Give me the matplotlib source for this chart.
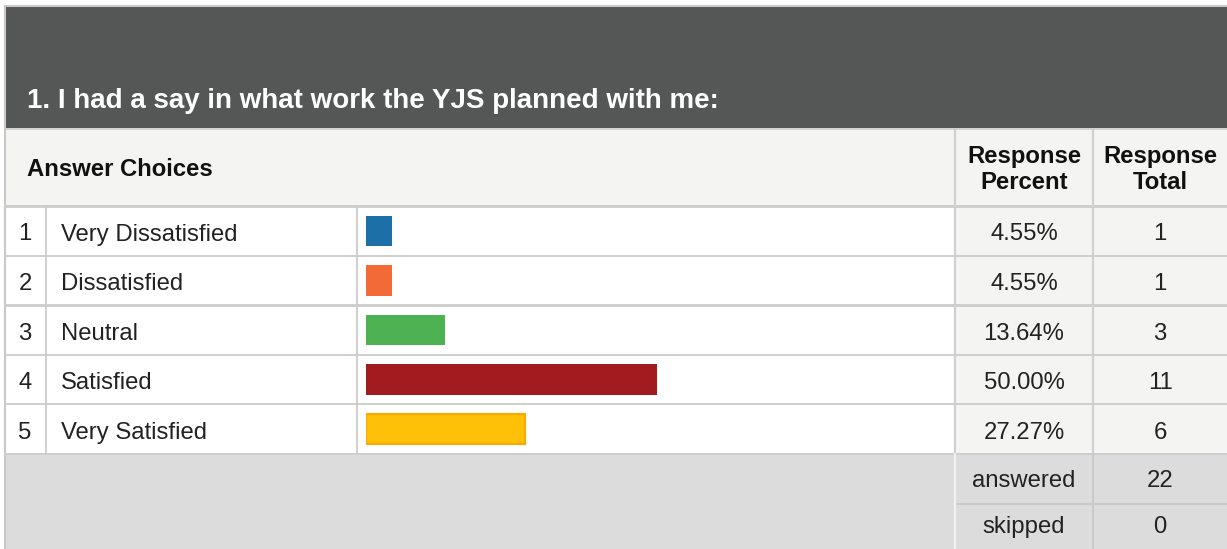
import matplotlib
matplotlib.use("Agg")
import matplotlib.pyplot as plt
from matplotlib.patches import Rectangle

# ---------------- data ----------------
title = "1. I had a say in what work the YJS planned with me:"
header_choices = "Answer Choices"
header_percent = ["Response", "Percent"]
header_total = ["Response", "Total"]
choices = ["Very Dissatisfied", "Dissatisfied", "Neutral", "Satisfied", "Very Satisfied"]
percents = [4.55, 4.55, 13.64, 50.00, 27.27]
totals = [1, 1, 3, 11, 6]
summary_labels = ["answered", "skipped"]
summary_values = [22, 0]
bar_colors = ["#1d70a7", "#f26a35", "#4eb152", "#a21c1f", "#ffc107"]
bar_edges = ["none", "none", "none", "none", "#ffa800"]

# ---------------- layout ----------------
plt.rcParams['font.family'] = ['Liberation Sans', 'DejaVu Sans']
W, H = 1227, 549
fig = plt.figure(figsize=(W / 100, H / 100), dpi=100)
ax = fig.add_axes([0, 0, 1, 1])
ax.set_xlim(0, W)
ax.set_ylim(H, 0)
ax.axis('off')

L = 5            # left border
TOP = 6
HDR_BOT = 128
COLHDR_TOP = 130
ROW_TOP = 206
ROW_H = 49.6
n = len(choices)
ROWS_BOT = ROW_TOP + n * ROW_H
SUM_H = [50, 45]
X_NUM = 46
X_LABEL_END = 357
X_PCT = 955
X_TOT = 1093
LINE = "#cccccc"
LIGHT = "#f4f4f3"
SUMBG = "#dcdcdc"

# backgrounds
ax.add_patch(Rectangle((L, TOP), W - L, HDR_BOT - TOP, color="#555756", lw=0))
ax.add_patch(Rectangle((L, HDR_BOT), W - L, COLHDR_TOP - HDR_BOT, color="#d4d4d4", lw=0))
ax.add_patch(Rectangle((L, COLHDR_TOP), W - L, ROW_TOP - COLHDR_TOP, color=LIGHT, lw=0))
ax.add_patch(Rectangle((L, ROW_TOP), X_PCT - L, ROWS_BOT - ROW_TOP, color="white", lw=0))
ax.add_patch(Rectangle((X_PCT, ROW_TOP), W - X_PCT, ROWS_BOT - ROW_TOP, color=LIGHT, lw=0))
ax.add_patch(Rectangle((L, ROWS_BOT), W - L, H - ROWS_BOT, color=SUMBG, lw=0))

# border
ax.plot([L, L], [TOP, H], color="#c8c8c8", lw=1.5)
ax.plot([L, W], [TOP, TOP], color="#c8c8c8", lw=1.5)

# horizontal row lines
for i in range(n + 1):
    y = ROW_TOP + i * ROW_H
    lw = 2.0 if i in (0, 2) else 1.3
    ax.plot([L, W], [y, y], color=LINE, lw=lw)
y_sum_mid = ROWS_BOT + SUM_H[0]
ax.plot([X_PCT, W], [y_sum_mid, y_sum_mid], color="#c8c8c8", lw=1.3)

# vertical lines
ax.plot([X_NUM, X_NUM], [ROW_TOP, ROWS_BOT], color=LINE, lw=1.3)
ax.plot([X_LABEL_END, X_LABEL_END], [ROW_TOP, ROWS_BOT], color=LINE, lw=1.3)
ax.plot([X_PCT, X_PCT], [COLHDR_TOP, ROWS_BOT], color="#d0d0d0", lw=1.6)
ax.plot([X_TOT, X_TOT], [COLHDR_TOP, ROWS_BOT], color="#d0d0d0", lw=1.6)
ax.plot([X_PCT, X_PCT], [ROWS_BOT, H], color="#f2f2f2", lw=1.6)
ax.plot([X_TOT, X_TOT], [ROWS_BOT, H], color="#c8c8c8", lw=1.3)

# texts
FS = 17.2
TXT = "#222222"
ax.text(27, 108.5, title, color="white", fontsize=20, fontweight="bold", va="baseline", ha="left")
ax.text(27, 175.5, header_choices, fontsize=FS, fontweight="bold", va="baseline", ha="left", color="#111111")
xc_pct = (X_PCT + X_TOT) / 2
xc_tot = (X_TOT + W) / 2
for j, (a, b) in enumerate(zip(header_percent, header_total)):
    yb = 162.7 + j * 26
    ax.text(xc_pct, yb, a, fontsize=FS, fontweight="bold", ha="center", va="baseline", color="#111111")
    ax.text(xc_tot, yb, b, fontsize=FS, fontweight="bold", ha="center", va="baseline", color="#111111")

for i, (c, p, t) in enumerate(zip(choices, percents, totals)):
    yb = ROW_TOP + i * ROW_H + 34.5
    ax.text(25, yb, str(i + 1), fontsize=FS, ha="center", va="baseline", color=TXT)
    ax.text(61, yb, c, fontsize=FS, ha="left", va="baseline", color=TXT)
    ax.text(xc_pct, yb, f"{p:.2f}%", fontsize=FS, ha="center", va="baseline", color=TXT)
    ax.text(xc_tot, yb, str(t), fontsize=FS, ha="center", va="baseline", color=TXT)

y0 = ROWS_BOT
for lab, val, h, off in zip(summary_labels, summary_values, SUM_H, [33, 29]):
    ax.text(xc_pct, y0 + off, lab, fontsize=FS, ha="center", va="baseline", color=TXT)
    ax.text(xc_tot, y0 + off, str(val), fontsize=FS, ha="center", va="baseline", color=TXT)
    y0 += h

# bars
BX0, BW = 366, 582
bax = fig.add_axes([BX0 / W, (H - ROWS_BOT) / H, BW / W, (ROWS_BOT - ROW_TOP) / H])
bax.set_xlim(0, 100)
bax.set_ylim(n - 0.5, -0.5)
bax.axis('off')
bax.patch.set_alpha(0)
bars = bax.barh(range(n), percents, height=0.61, color=bar_colors, linewidth=0)
for b, ec in zip(bars, bar_edges):
    if ec != "none":
        b.set_edgecolor(ec)
        b.set_linewidth(1.5)

fig.savefig("out.png", dpi=100)
